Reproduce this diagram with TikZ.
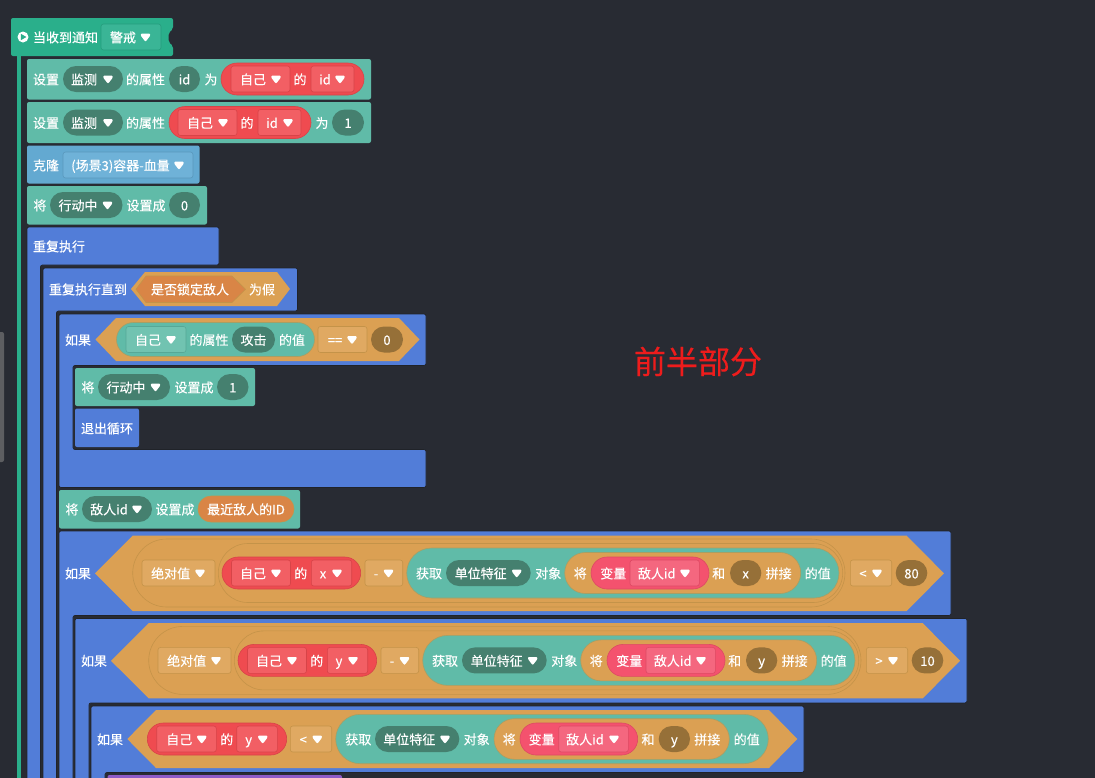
\documentclass[tikz,border=0pt]{standalone}
\usepackage{fontspec}
\setmainfont[FakeBold=0.25]{Noto Sans CJK SC}
\usetikzlibrary{calc}
\definecolor{bgDark}{HTML}{282B33}
\definecolor{rimDark}{HTML}{202329}
\definecolor{hatGreen}{HTML}{2AAF8B}
\definecolor{hatDrop}{HTML}{3AB596}
\definecolor{setTeal}{HTML}{60BBA8}
\definecolor{tealDark}{HTML}{45806F}
\definecolor{tealDrop}{HTML}{71C3B1}
\definecolor{cloneBlue}{HTML}{63A9D1}
\definecolor{cloneDrop}{HTML}{6FB2D8}
\definecolor{loopBlue}{HTML}{527DD8}
\definecolor{selfRed}{HTML}{EF4B50}
\definecolor{selfDrop}{HTML}{F25F64}
\definecolor{varPink}{HTML}{F4526E}
\definecolor{varDrop}{HTML}{F4677F}
\definecolor{opOrange}{HTML}{DBA053}
\definecolor{opDrop}{HTML}{E0A962}
\definecolor{opRim}{HTML}{C49349}
\definecolor{senseOrange}{HTML}{D98546}
\definecolor{numBrown}{HTML}{967038}
\definecolor{lookPurple}{HTML}{8E5BC8}
\tikzset{
  lbl/.style       = {text=white, inner sep=0pt, font=\fontsize{13}{15}\selectfont,
                      text height=11.9pt, text depth=1.1pt},
  stack/.style     = {rounded corners=2pt},
  setblock/.style  = {stack, fill=setTeal},
  loopblock/.style = {stack, fill=loopBlue, draw=rimDark, line width=0.7pt},
  hatblock/.style  = {rounded corners=2pt, fill=hatGreen},
  dropbase/.style  = {rounded corners=2.5pt, line width=0.6pt},
  hatdrop/.style   = {dropbase, fill=hatDrop, draw=hatGreen!90!black},
  clonedrop/.style = {dropbase, fill=cloneDrop, draw=cloneBlue!90!black},
  selfdrop/.style  = {dropbase, fill=selfDrop, draw=selfRed!90!black},
  vardrop/.style   = {dropbase, fill=varDrop, draw=varPink!90!black},
  tealdrop/.style  = {dropbase, fill=tealDrop, draw=setTeal!90!black},
  opdrop/.style    = {dropbase, fill=opDrop, draw=opRim},
  darkpill/.style  = {fill=tealDark},
  brownpill/.style = {fill=numBrown},
  redpill/.style   = {fill=selfRed, draw=selfRed!90!black, line width=0.6pt},
  pinkpill/.style  = {fill=varPink, draw=varPink!90!black, line width=0.6pt},
  tealpill/.style  = {fill=setTeal, draw=opRim!70!setTeal, line width=0.6pt},
  orangepill/.style= {fill=opOrange, draw=opRim!70!setTeal, line width=0.6pt},
  rimpill/.style   = {fill=opOrange, draw=opRim, line width=0.6pt},
  sensepill/.style = {fill=senseOrange, draw=opRim, line width=0.6pt},
  hexbase/.style   = {fill=opOrange},
  hexinner/.style  = {fill=senseOrange, draw=opRim, line width=0.6pt},
}
\newcounter{lblno}
\newcommand{\lbl}[3]{\stepcounter{lblno}\node[lbl] (lbl\arabic{lblno}) at ({#1},{#2}) {#3};}
\newcommand{\dropmark}[2]{\fill[white, rounded corners=0.8pt]
  (#1-4.6,#2-3.4) -- (#1+4.6,#2-3.4) -- (#1+4.6,#2-1.2) -- (#1+0.5,#2+4.2)
  -- (#1-0.5,#2+4.2) -- (#1-4.6,#2-1.2) -- cycle;}
\newcommand{\dropbox}[7]{\draw[#1] (#2,#4-13) rectangle (#3,#4+13);
  \lbl{#5}{#4}{#7}\dropmark{#6}{#4}}
\newcommand{\capsule}[5]{\path[#1, rounded corners=#5pt] (#2,#4-#5) rectangle (#3,#4+#5);}
\newcommand{\valpill}[5]{\capsule{#1}{#2}{#3}{#4}{13}\lbl{(#2+#3)/2}{#4}{#5}}
\newcommand{\varpill}[6]{\capsule{darkpill}{#1}{#2}{#3}{13}\lbl{#4}{#3}{#6}\dropmark{#5}{#3}}
\newcommand{\hexa}[7]{\path[#1] (#2,{(#6+#7)/2}) -- (#3,#6) -- (#4,#6) -- (#5,{(#6+#7)/2})
  -- (#4,#7) -- (#3,#7) -- cycle;}
\newcommand{\bigif}[3]{
  \draw[loopblock] (59,531) -- (951,531) -- (951,615.5) -- (73,615.5) -- (73,800) -- (59,800) -- cycle;
  \lbl{78}{573}{如果}
  \hexa{hexbase}{95}{132.7}{906.7}{944}{535.7}{611}
  \capsule{rimpill}{132.7}{845}{573}{34}
  \capsule{rimpill}{218.3}{842.7}{573}{29.5}
  \dropbox{opdrop}{142}{215}{573}{170.7}{200}{绝对值}
  \capsule{redpill}{222}{360.7}{573}{16}
  \dropbox{selfdrop}{231.5}{290.5}{573}{253}{276}{自己}
  \lbl{300.7}{573}{的}
  \dropbox{selfdrop}{311.3}{351.7}{573}{323}{337}{#1}
  \dropbox{opdrop}{365}{402.7}{573}{376}{388.5}{-}
  \capsule{tealpill}{406.7}{839}{573}{25}
  \lbl{429}{573}{获取}
  \varpill{446}{530.7}{573}{480.7}{516.7}{单位特征}
  \lbl{548.3}{573}{对象}
  \capsule{orangepill}{564.7}{800.7}{573}{20.5}
  \lbl{580.3}{573}{将}
  \capsule{pinkpill}{591}{709}{573}{16}
  \lbl{613.3}{573}{变量}
  \dropbox{vardrop}{630}{699.3}{573}{656.7}{685}{敌人id}
  \lbl{718.7}{573}{和}
  \valpill{brownpill}{730}{761.3}{573}{#1}
  \lbl{778.7}{573}{拼接}
  \lbl{817.7}{573}{的值}
  \dropbox{opdrop}{850.3}{891.7}{573}{863}{877}{#2}
  \valpill{brownpill}{895.7}{927.3}{573}{#3}
}

\begin{document}
\begin{tikzpicture}[x=1pt, y=-1pt]
  \useasboundingbox (0,0) rectangle (1095,777);
  \clip (0,0) rectangle (1095,777);
  \fill[bgDark] (-1,-1) rectangle (1096,778);
  \fill[gray!60!bgDark, rounded corners=2pt] (-3,332) rectangle (4,462);

  % hat and its stem
  \fill[hatGreen] (17.3,50) rectangle (20.8,778);
  \path[hatblock] (11,18) -- (173,18) -- (173,29) -- (168.5,33) -- (168.5,42) -- (173,46) -- (173,56) -- (11,56) -- cycle;
  \fill[white] (23,37) circle (5.5pt);
  \fill[hatGreen] (20.8,33.8) -- (26.4,37) -- (20.8,40.2) -- cycle;
  \lbl{65.5}{37}{当收到通知}
  \dropbox{hatdrop}{101}{161}{37}{123}{145.5}{警戒}

  % first property row
  \path[setblock] (27,59) rectangle (371,99.5);
  \lbl{46}{79}{设置}
  \varpill{63}{123}{79}{84}{108}{监测}
  \lbl{145.5}{79}{的属性}
  \valpill{darkpill}{169}{200}{79}{id}
  \lbl{211}{79}{为}
  \capsule{redpill}{221}{364}{79}{16}
  \dropbox{selfdrop}{231}{290}{79}{253}{276}{自己}
  \lbl{300}{79}{的}
  \dropbox{selfdrop}{311}{354}{79}{325}{340}{id}

  % second property row
  \path[setblock] (27,102) rectangle (371,143);
  \lbl{46}{122.5}{设置}
  \varpill{63}{123}{122.5}{84}{108}{监测}
  \lbl{145.5}{122.5}{的属性}
  \capsule{redpill}{169}{311}{122.5}{16}
  \dropbox{selfdrop}{178}{237}{122.5}{200}{223}{自己}
  \lbl{247}{122.5}{的}
  \dropbox{selfdrop}{258}{301}{122.5}{272}{288}{id}
  \lbl{322}{122.5}{为}
  \valpill{darkpill}{332}{364}{122.5}{1}

  % clone
  \path[stack, fill=cloneBlue] (27,145.5) rectangle (199.5,183.5);
  \lbl{46}{165}{克隆}
  \dropbox{clonedrop}{63}{193}{165}{120.5}{179}{(场景3)容器-血量}

  \path[setblock] (27,186) rectangle (207,224.5);
  \lbl{40}{205}{将}
  \varpill{50}{122.5}{205}{78}{107.5}{行动中}
  \lbl{146}{205}{设置成}
  \valpill{darkpill}{169}{200}{205}{0}

  % forever
  \draw[loopblock] (27,227) -- (219,227) -- (219,265) -- (40.5,265) -- (40.5,800) -- (27,800) -- cycle;
  \lbl{59}{246}{重复执行}

  % repeat until
  \draw[loopblock] (43,268) -- (297.5,268) -- (297.5,311) -- (56.5,311) -- (56.5,800) -- (43,800) -- cycle;
  \lbl{88}{289}{重复执行直到}
  \hexa{hexbase}{131}{145}{277}{290}{272}{306}
  \hexa{hexinner}{136}{146}{232}{245.5}{276}{302.5}
  \lbl{190}{289}{是否锁定敌人}
  \lbl{262}{289}{为假}

  % first if
  \draw[loopblock] (59,314) -- (426,314) -- (426,365.5) -- (73,365.5) -- (73,449.5) -- (426,449.5)
    -- (426,487.5) -- (59,487.5) -- cycle;
  \lbl{78}{339.5}{如果}
  \hexa{hexbase}{95.5}{116}{399}{419.5}{318}{361}
  \capsule{tealpill}{116.5}{314.5}{339.5}{17}
  \dropbox{tealdrop}{126}{186}{339.5}{148}{171}{自己}
  \lbl{209}{339.5}{的属性}
  \valpill{darkpill}{232}{275}{339.5}{攻击}
  \lbl{292}{339.5}{的值}
  \dropbox{opdrop}{318}{367}{339.5}{335}{352}{==}
  \valpill{brownpill}{371}{403}{339.5}{0}

  \path[setblock] (75,368) rectangle (255,406);
  \lbl{88}{387}{将}
  \varpill{98}{170}{387}{126}{155.5}{行动中}
  \lbl{194}{387}{设置成}
  \valpill{darkpill}{217}{248.5}{387}{1}

  \path[stack, fill=loopBlue] (75,408.5) rectangle (139,447);
  \lbl{107}{428}{退出循环}

  \path[setblock] (59,490) rectangle (300,528.5);
  \lbl{72}{509}{将}
  \varpill{82}{152}{509}{109}{137}{敌人id}
  \lbl{175}{509}{设置成}
  \valpill{sensepill}{198}{294}{509}{最近敌人的ID}

  % nested ifs
  \bigif{x}{<}{80}
  \begin{scope}[shift={(16,87.4)}]
    \bigif{y}{>}{10}
  \end{scope}

  \draw[loopblock] (91,706) -- (804,706) -- (804,772.5) -- (105,772.5) -- (105,800) -- (91,800) -- cycle;
  \lbl{110}{739}{如果}
  \hexa{hexbase}{127.3}{156}{769}{797.3}{710}{768}
  \capsule{redpill}{147.3}{286.7}{739}{16}
  \dropbox{selfdrop}{156.7}{216.3}{739}{179.3}{201.7}{自己}
  \lbl{226.7}{739}{的}
  \dropbox{selfdrop}{236.7}{277.3}{739}{248.7}{262.7}{y}
  \dropbox{opdrop}{290.3}{331.7}{739}{303.3}{317.3}{<}
  \capsule{tealpill}{335.7}{768.3}{739}{24.7}
  \lbl{358.3}{739}{获取}
  \varpill{375}{459.3}{739}{409.3}{445}{单位特征}
  \lbl{476.7}{739}{对象}
  \capsule{orangepill}{494}{729.3}{739}{20.3}
  \lbl{509.3}{739}{将}
  \capsule{pinkpill}{520}{637.7}{739}{16}
  \lbl{541.7}{739}{变量}
  \dropbox{vardrop}{558.7}{628.3}{739}{585}{614}{敌人id}
  \lbl{648}{739}{和}
  \valpill{brownpill}{658.7}{690}{739}{y}
  \lbl{707.3}{739}{拼接}
  \lbl{746.7}{739}{的值}

  \path[stack, fill=lookPurple] (107.5,775) rectangle (342,800);

  \node[text={rgb,255:red,238;green,28;blue,28}, inner sep=0pt, font=\fontsize{32}{36}\selectfont] (title) at (698,361.5) {前半部分};
\end{tikzpicture}
\end{document}
